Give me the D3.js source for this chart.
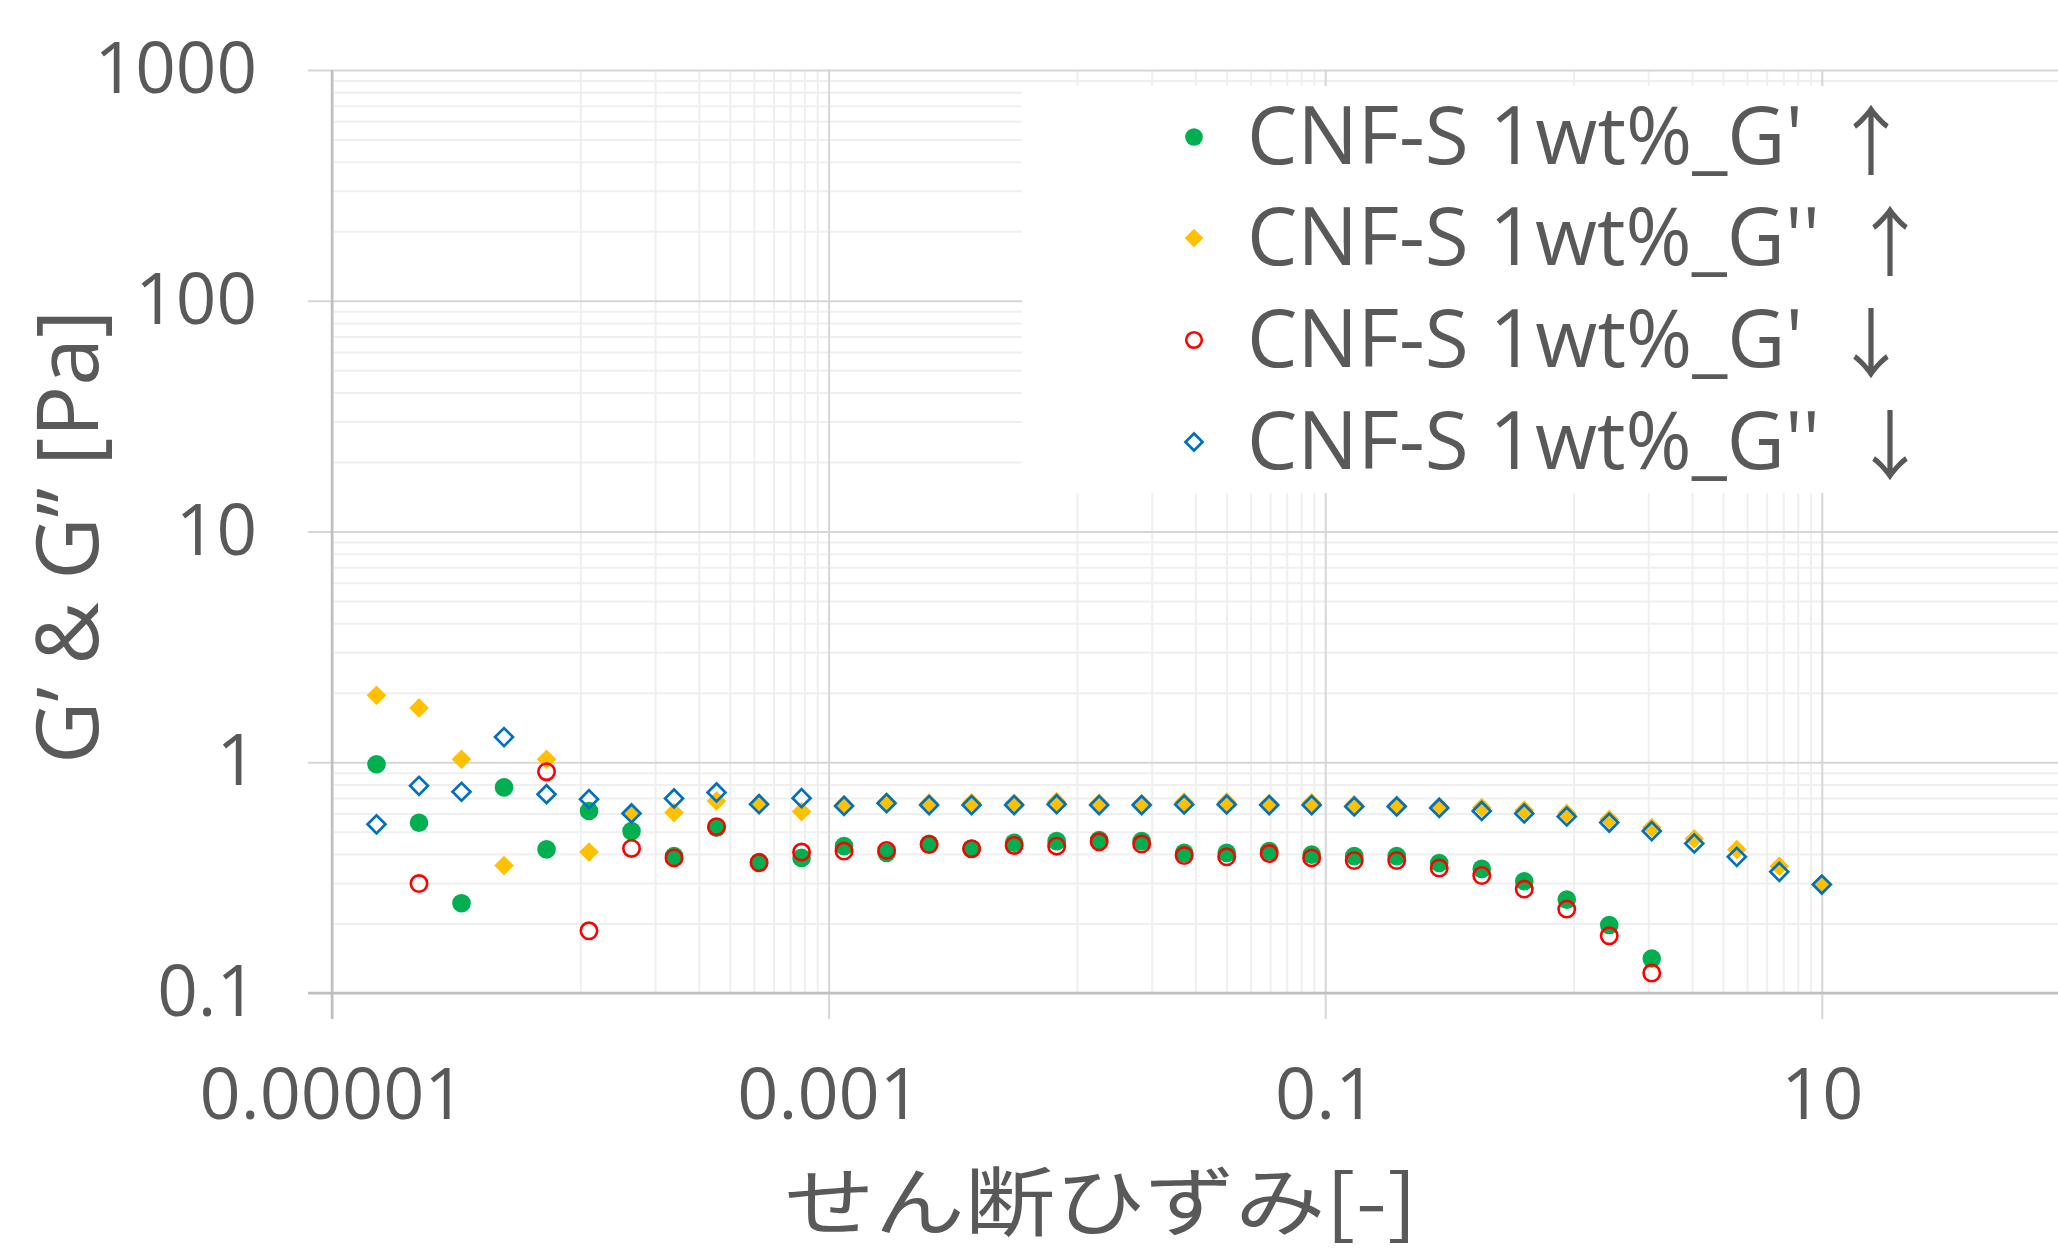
<!DOCTYPE html>
<html>
<head>
<meta charset="utf-8">
<script src="https://cdn.jsdelivr.net/npm/d3@7"></script>
<style>
  html, body { margin: 0; padding: 0; background: #ffffff; overflow: hidden; }
  svg { display: block; }
</style>
</head>
<body>
<script>
// Shear strain (x) for each measurement step
const strain = [
  1.511e-5, 2.241e-5, 3.323e-5, 4.929e-5, 7.311e-5,
  1.084e-4, 1.608e-4, 2.385e-4, 3.537e-4, 5.248e-4,
  7.783e-4, 1.154e-3, 1.712e-3, 2.540e-3, 3.767e-3,
  5.588e-3, 8.288e-3, 1.229e-2, 1.823e-2, 2.704e-2,
  4.011e-2, 5.949e-2, 8.822e-2, 0.1309, 0.1941,
  0.2879, 0.4270, 0.6333, 0.9393, 1.393,
  2.066, 3.065, 4.546, 6.743, 10
];

// Storage modulus G' (Pa), increasing strain
const gPrimeUp = [
  0.98, 0.547, 0.245, 0.778, 0.419,
  0.615, 0.503, 0.392, 0.521, 0.369,
  0.385, 0.433, 0.405, 0.443, 0.422,
  0.448, 0.455, 0.460, 0.455, 0.405,
  0.405, 0.412, 0.398, 0.392, 0.392,
  0.366, 0.345, 0.305, 0.254, 0.197,
  0.141, null, null, null, null
];

// Loss modulus G'' (Pa), increasing strain
const gDoublePrimeUp = [
  1.95, 1.72, 1.03, 0.357, 1.03,
  0.408, 0.605, 0.605, 0.680, 0.665,
  0.611, 0.655, 0.672, 0.665, 0.668,
  0.665, 0.675, 0.665, 0.662, 0.672,
  0.672, 0.662, 0.668, 0.655, 0.652,
  0.645, 0.637, 0.620, 0.601, 0.566,
  0.521, 0.466, 0.419, 0.354, 0.298
];

// Storage modulus G' (Pa), decreasing strain
const gPrimeDown = [
  null, 0.298, null, null, 0.91,
  0.186, 0.423, 0.385, 0.526, 0.367,
  0.408, 0.412, 0.415, 0.440, 0.422,
  0.436, 0.433, 0.452, 0.442, 0.394,
  0.389, 0.402, 0.385, 0.375, 0.375,
  0.348, 0.323, 0.282, 0.231, 0.177,
  0.122, null, null, null, null
];

// Loss modulus G'' (Pa), decreasing strain
const gDoublePrimeDown = [
  0.538, 0.79, 0.745, 1.285, 0.727,
  0.692, 0.600, 0.697, 0.740, 0.658,
  0.699, 0.647, 0.665, 0.652, 0.652,
  0.652, 0.658, 0.652, 0.652, 0.656,
  0.656, 0.652, 0.652, 0.643, 0.643,
  0.634, 0.615, 0.600, 0.582, 0.548,
  0.503, 0.445, 0.389, 0.335, 0.295
];

const xTickValues = [1e-5, 1e-3, 1e-1, 10];
const xTickLabels = ["0.00001", "0.001", "0.1", "10"];
const yTickValues = [0.1, 1, 10, 100, 1000];
const yTickLabels = ["0.1", "1", "10", "100", "1000"];

const seriesNames = ["CNF-S 1wt%_G'", "CNF-S 1wt%_G''", "CNF-S 1wt%_G'", "CNF-S 1wt%_G''"];
const seriesArrows = ["↑", "↑", "↓", "↓"];

const xTitle = "せん断ひずみ[-]";
const yTitle = "G’ & G’’ [Pa]";

// ---- layout ----
const W = 2058, H = 1255;
const plotLeft = 332, plotTop = 70, plotBottom = 993;
const decadeX = 248.3;
const textColor = "#595959";
const latin = "'Open Sans', 'Liberation Sans', Arial, sans-serif";
const cjk = "'Noto Sans CJK JP', sans-serif";

const x = d3.scaleLog().domain([1e-5, 100]).range([plotLeft, plotLeft + 7 * decadeX]);
const y = d3.scaleLog().domain([0.1, 1000]).range([plotBottom, plotTop]);

const svg = d3.select("body").append("svg")
  .attr("width", W).attr("height", H)
  .attr("viewBox", `0 0 ${W} ${H}`);

svg.append("rect").attr("width", W).attr("height", H).attr("fill", "#fff");

// minor gridlines
const yMinor = [];
for (let n = -1; n <= 2; n++) for (let k = 2; k <= 9; k++) yMinor.push(k * Math.pow(10, n));
const xMinor = [];
[-4, -2, 0].forEach(m => { for (let k = 1; k <= 9; k++) xMinor.push(k * Math.pow(10, m)); });

function styleGrid(g, color) {
  g.select(".domain").remove();
  g.selectAll(".tick line").attr("stroke", color).attr("stroke-width", 2);
  g.selectAll(".tick text").remove();
}

svg.append("g").attr("transform", `translate(${plotLeft},0)`)
  .call(d3.axisLeft(y).tickValues(yMinor).tickSizeInner(-(W - plotLeft)).tickSizeOuter(0).tickFormat(""))
  .call(g => styleGrid(g, "#efefef"));

svg.append("g").attr("transform", `translate(0,${plotTop})`)
  .call(d3.axisBottom(x).tickValues(xMinor).tickSizeInner(plotBottom - plotTop).tickSizeOuter(0).tickFormat(""))
  .call(g => styleGrid(g, "#efefef"));

// major gridlines (with tick stubs outside the plot)
svg.append("g").attr("transform", `translate(${plotLeft - 24},0)`)
  .call(d3.axisLeft(y).tickValues(yTickValues).tickSizeInner(-(W - plotLeft + 24)).tickSizeOuter(0).tickFormat(""))
  .call(g => styleGrid(g, "#d6d6d6"));

svg.append("g").attr("transform", `translate(0,${plotTop})`)
  .call(d3.axisBottom(x).tickValues(xTickValues).tickSizeInner(plotBottom - plotTop + 26).tickSizeOuter(0).tickFormat(""))
  .call(g => styleGrid(g, "#d6d6d6"));

// axis lines
svg.append("line")
  .attr("x1", plotLeft).attr("x2", plotLeft)
  .attr("y1", plotTop).attr("y2", plotBottom + 26)
  .attr("stroke", "#bfbfbf").attr("stroke-width", 2.5);
svg.append("line")
  .attr("x1", plotLeft - 24).attr("x2", W)
  .attr("y1", plotBottom).attr("y2", plotBottom)
  .attr("stroke", "#bfbfbf").attr("stroke-width", 2.5);

// tick labels
svg.append("g").attr("transform", `translate(${plotLeft},0)`)
  .call(d3.axisLeft(y).tickValues(yTickValues).tickSizeInner(24).tickSizeOuter(0).tickPadding(51)
    .tickFormat((d, i) => yTickLabels[i]))
  .call(g => {
    g.select(".domain").remove();
    g.selectAll(".tick line").remove();
    g.selectAll(".tick text").attr("fill", textColor).attr("font-family", latin).attr("font-size", 71);
  });

svg.append("g").attr("transform", `translate(0,${plotBottom})`)
  .call(d3.axisBottom(x).tickValues(xTickValues).tickSizeInner(26).tickSizeOuter(0).tickPadding(49)
    .tickFormat((d, i) => xTickLabels[i]))
  .call(g => {
    g.select(".domain").remove();
    g.selectAll(".tick line").remove();
    g.selectAll(".tick text").attr("fill", textColor).attr("font-family", latin).attr("font-size", 72);
  });

// axis titles
svg.append("text")
  .attr("transform", "translate(98,537) rotate(-90)")
  .attr("text-anchor", "middle")
  .attr("fill", textColor).attr("font-family", latin).attr("font-size", 86)
  .text(yTitle);

svg.append("text")
  .attr("x", 1101).attr("y", 1197)
  .attr("text-anchor", "middle").attr("dominant-baseline", "central")
  .attr("fill", textColor).attr("font-family", cjk).attr("font-size", 76)
  .attr("textLength", 633).attr("lengthAdjust", "spacingAndGlyphs")
  .text(xTitle);

// legend background
const legendBox = { x: 1022, y: 86, w: W - 1022, h: 407 };
svg.append("rect")
  .attr("x", legendBox.x).attr("y", legendBox.y)
  .attr("width", legendBox.w).attr("height", legendBox.h)
  .attr("fill", "#ffffff");

// series markers
const series = [
  { values: gPrimeUp, kind: "circle", fill: "#00b050", stroke: "none" },
  { values: gDoublePrimeUp, kind: "diamond", fill: "#ffc000", stroke: "none" },
  { values: gPrimeDown, kind: "circle", fill: "none", stroke: "#ff0000" },
  { values: gDoublePrimeDown, kind: "diamond", fill: "none", stroke: "#0070c0" }
];

function drawMarker(sel, s, scaleFactor) {
  if (s.kind === "circle") {
    const r = (s.stroke === "none" ? 9.3 : 8.2) * scaleFactor;
    sel.append("circle").attr("r", r)
      .attr("fill", s.fill).attr("stroke", s.stroke).attr("stroke-width", 2.6);
  } else {
    const size = (s.stroke === "none" ? 192 : 160) * scaleFactor * scaleFactor;
    sel.append("path")
      .attr("d", d3.symbol(d3.symbolSquare, size)())
      .attr("transform", "rotate(45)")
      .attr("fill", s.fill).attr("stroke", s.stroke).attr("stroke-width", 2.7);
  }
}

series.forEach(s => {
  const pts = strain.map((sx, i) => ({ sx, v: s.values[i] })).filter(d => d.v != null);
  const g = svg.append("g");
  g.selectAll("g.pt").data(pts).enter().append("g")
    .attr("class", "pt")
    .attr("transform", d => `translate(${x(d.sx)},${y(d.v)})`)
    .each(function () { drawMarker(d3.select(this), s, 1); });
});

// legend entries: marker, series name, sweep-direction arrow
const legendRows = [137, 238, 340, 442];
const nameWidths = [556, 573, 556, 573];
const arrowX = [1871, 1890, 1871, 1890];
series.forEach((s, i) => {
  const m = svg.append("g").attr("transform", `translate(1194,${legendRows[i]})`);
  drawMarker(m, s, 0.95);
  svg.append("text")
    .attr("x", 1247).attr("y", legendRows[i] + 27)
    .attr("fill", textColor).attr("font-family", latin).attr("font-size", 80)
    .attr("textLength", nameWidths[i]).attr("lengthAdjust", "spacingAndGlyphs")
    .text(seriesNames[i]);
  svg.append("text")
    .attr("x", arrowX[i]).attr("y", legendRows[i] - 1)
    .attr("text-anchor", "middle").attr("dominant-baseline", "central")
    .attr("fill", textColor).attr("font-family", cjk).attr("font-size", 76)
    .text(seriesArrows[i]);
});
</script>
</body>
</html>
